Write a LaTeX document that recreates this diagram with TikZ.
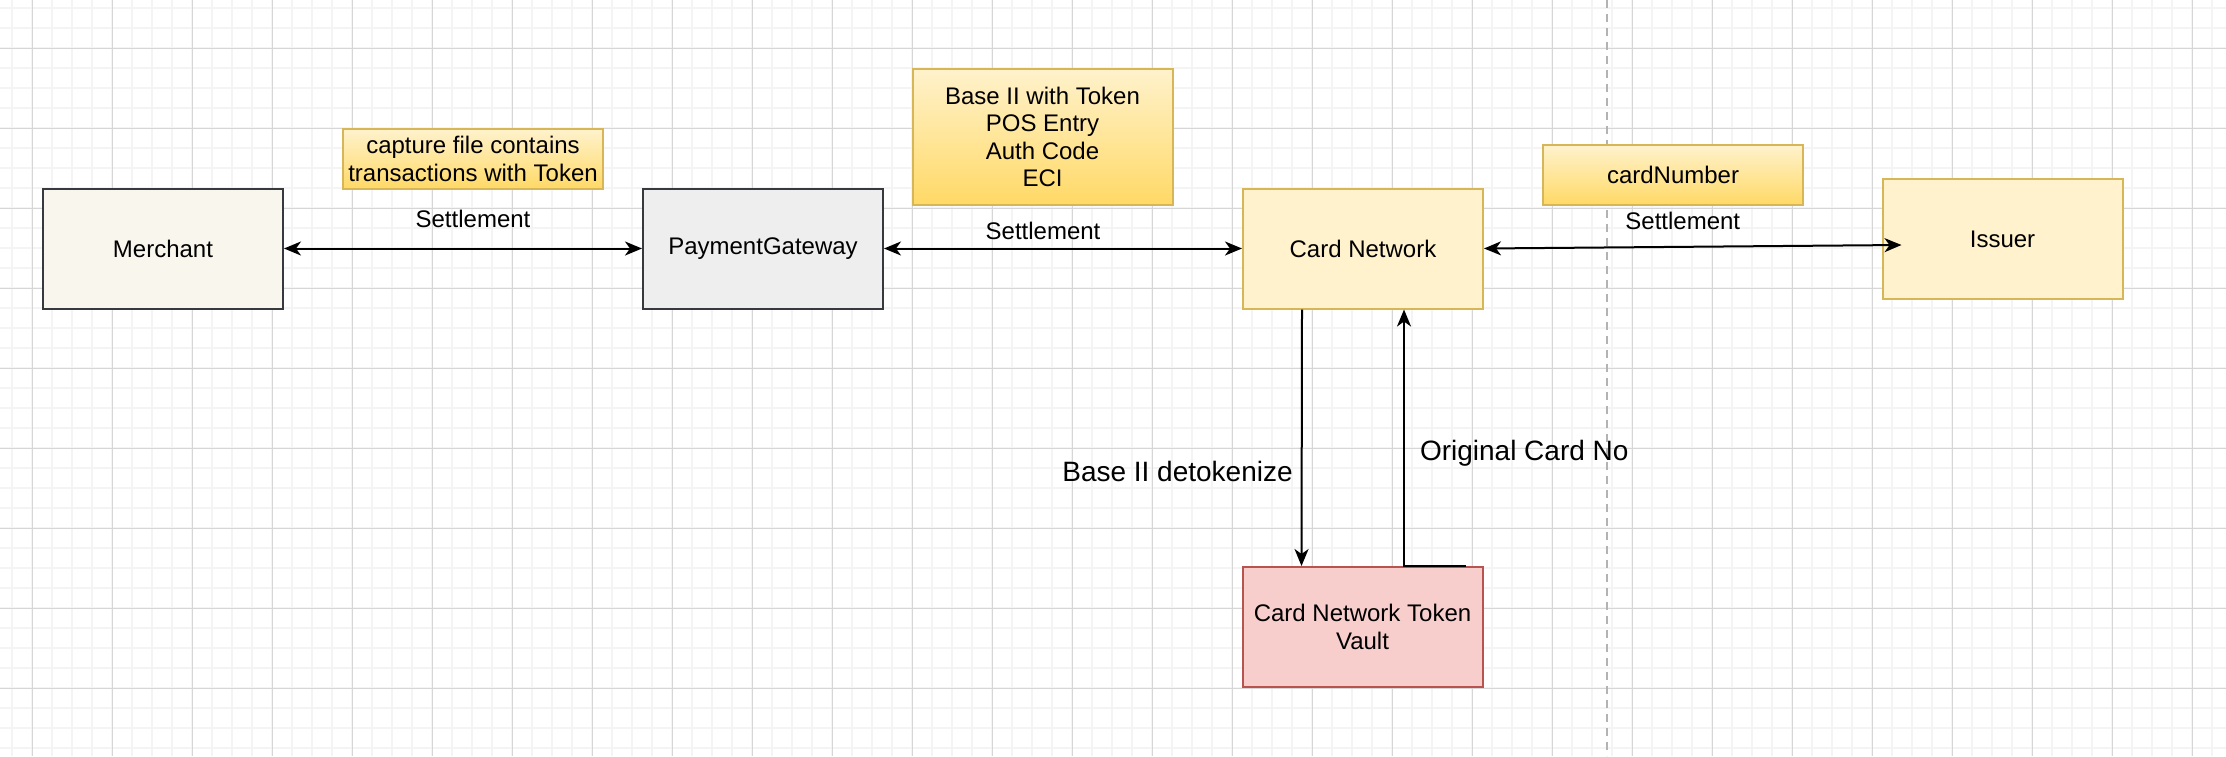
\documentclass[tikz,border=0pt]{standalone}
\usepackage{fontspec}
\setmainfont{Liberation Sans}
\usetikzlibrary{positioning,arrows.meta,calc}
\definecolor{gridminor}{HTML}{F4F4F4}
\definecolor{gridmajor}{HTML}{D6D6D6}
\definecolor{merchfill}{HTML}{F9F7ED}
\definecolor{darkline}{HTML}{36393D}
\definecolor{pgfillc}{HTML}{EEEEEE}
\definecolor{yellowfill}{HTML}{FFF2CC}
\definecolor{yellowline}{HTML}{D6B656}
\definecolor{notebot}{HTML}{FFD966}
\definecolor{redfill}{HTML}{F8CECC}
\definecolor{redline}{HTML}{B85450}
\definecolor{dashgrey}{HTML}{B3B3B3}

\begin{document}
\begin{tikzpicture}[x=0.5pt, y=-0.5pt, font=\fontsize{12}{13.8}\selectfont,
    box/.style={line width=1pt, minimum width=120pt, minimum height=60pt, inner sep=0pt, align=center},
    notebox/.style={draw=yellowline, line width=1pt, top color=yellowfill, bottom color=notebot, inner sep=0pt, align=center},
    arr/.style={line width=1pt, -{Stealth[length=8.5pt,width=7pt,inset=2.5pt]}},
    biarr/.style={line width=1pt, {Stealth[length=8.5pt,width=7pt,inset=2.5pt]}-{Stealth[length=8.5pt,width=7pt,inset=2.5pt]}},
    lbl/.style={inner sep=0pt},
    biglbl/.style={inner sep=0pt, font=\fontsize{14}{16}\selectfont}]
    % canvas and grid
    \fill[white] (0,0) rectangle (2226,756);
    \useasboundingbox (0,0) rectangle (2226,756);
    \foreach \gx in {12,32,...,2226}{\draw[gridminor, line width=1pt] (\gx,0) -- (\gx,756);}
    \foreach \gy in {8,28,...,756}{\draw[gridminor, line width=1pt] (0,\gy) -- (2226,\gy);}
    \foreach \gx in {32,112,...,2226}{\draw[gridmajor, line width=0.5pt] (\gx,0) -- (\gx,756);}
    \foreach \gy in {48,128,...,756}{\draw[gridmajor, line width=0.5pt] (0,\gy) -- (2226,\gy);}
    \draw[dashgrey, line width=1pt, dash pattern=on 4pt off 3pt] (1607,0) -- (1607,756);

    % parties
    \node[box, draw=darkline, fill=merchfill] (merchant) at (163,248.5) {Merchant};
    \node[box, draw=darkline, fill=pgfillc] (pg) at (763,248.5) {PaymentGateway};
    \node[box, draw=yellowline, fill=yellowfill] (cn) at (1363,248.5) {Card Network};
    \node[box, draw=yellowline, fill=yellowfill] (issuer) at (2002.5,239) {Issuer};
    \node[box, draw=redline, fill=redfill] (vault) at (1362.5,627) {Card Network Token\\Vault};

    % notes
    \node[notebox, minimum width=130pt, minimum height=30pt] (capnote) at (473,159) {capture file contains\\transactions with Token};
    \node[notebox, minimum width=130pt, minimum height=68pt] (basenote) at (1042.5,137) {Base II with Token\\POS Entry\\Auth Code\\ECI};
    \node[notebox, minimum width=130pt, minimum height=30pt] (cardnote) at (1673,175) {cardNumber};

    % settlement flow
    \coordinate (isin) at ($(issuer.west)+(20,6)$);
    \draw[biarr] (merchant) -- (pg) node[lbl, midway, above=10pt, xshift=5pt] {Settlement};
    \draw[biarr] (pg) -- (cn) node[lbl, midway, above=4pt, xshift=-10pt] {Settlement};
    \draw[biarr] (cn.east) -- (isin) node[lbl, midway, above=8pt, xshift=-5pt] {Settlement};

    % detokenize
    \draw[arr] ([xshift=30pt]cn.south west) -- ([xshift=30pt]vault.north west) node[biglbl, left=4pt, pos=0.63] {Base II detokenize};
    \draw[arr] ([xshift=-9pt]vault.north east) -| ([xshift=81pt]cn.south west) node[biglbl, right=7.5pt, pos=0.72] {Original Card No};
\end{tikzpicture}
\end{document}
